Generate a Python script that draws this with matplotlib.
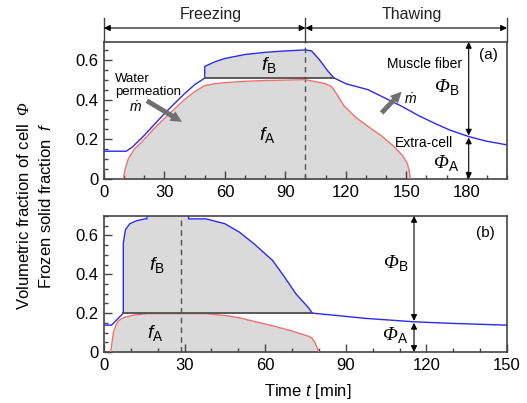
import numpy as np
import matplotlib
matplotlib.use("Agg")
import matplotlib.pyplot as plt
from matplotlib.ticker import MultipleLocator

plt.rcParams['font.family'] = ['Liberation Sans', 'DejaVu Sans']
plt.rcParams['mathtext.fontset'] = 'custom'
plt.rcParams['mathtext.rm'] = 'Liberation Sans'
plt.rcParams['mathtext.it'] = 'Liberation Sans:italic'
plt.rcParams['mathtext.bf'] = 'Liberation Serif:italic'

# ---- panel (a): freezing then thawing ----
blue_a_t = [0, 11, 14, 20, 25, 31, 40, 45, 50, 50, 55, 60, 70, 80, 90, 100,
            103, 107, 111, 114, 120, 131, 140, 148, 156, 164, 172, 181, 190, 200]
blue_a_v = [0.14, 0.14, 0.16, 0.22, 0.275, 0.34, 0.43, 0.475, 0.508, 0.567, 0.59, 0.607,
            0.627, 0.638, 0.645, 0.65, 0.645, 0.60, 0.545, 0.51, 0.48, 0.45, 0.405,
            0.365, 0.32, 0.281, 0.245, 0.214, 0.19, 0.172]
red_a_t = [9.6, 10.5, 12, 15, 20, 25, 31, 40, 45, 50, 55, 60, 70, 80, 90, 100,
           105, 110, 113, 116, 119, 125, 131, 138, 144, 148, 150.5, 151.5, 152]
red_a_v = [0, 0.05, 0.10, 0.15, 0.20, 0.255, 0.315, 0.40, 0.44, 0.47, 0.48, 0.485,
           0.492, 0.496, 0.498, 0.50, 0.49, 0.48, 0.465, 0.42, 0.37, 0.31, 0.265,
           0.215, 0.163, 0.12, 0.08, 0.04, 0]
fb_a_base = 0.51
fb_a_range = (50, 114)
split_a = 100
phi_a_t = 181
phi_a_v = 0.214

# ---- panel (b) ----
blue_b_t = [0, 2.8, 7.2, 7.2, 8, 9.6, 12, 15.2, 16, 16, 31.5, 31.5, 38, 45, 50.4,
            56, 62.7, 67, 71.4, 76.3, 77.5, 85, 97.3, 115.8, 130, 150]
blue_b_v = [0.138, 0.138, 0.2, 0.56, 0.63, 0.66, 0.675, 0.685, 0.685, 0.75, 0.75,
            0.685, 0.685, 0.66, 0.617, 0.555, 0.472, 0.39, 0.30, 0.225, 0.2, 0.19,
            0.173, 0.155, 0.147, 0.138]
red_b_t = [2.5, 3, 3.5, 4.5, 5.3, 7, 10.9, 16, 38, 45, 50.4, 56, 62.7, 70, 76.3,
           77.5, 78.5, 79.4, 80]
red_b_v = [0, 0.05, 0.10, 0.14, 0.16, 0.175, 0.19, 0.197, 0.197, 0.188, 0.176,
           0.157, 0.135, 0.108, 0.08, 0.07, 0.05, 0.02, 0]
fb_b_base = 0.2
fb_b_range = (7.2, 77.5)
split_b = 28.5
phi_b_t = 115.4
phi_b_v = 0.155

BLUE = '#2b2bf0'
RED = '#f07070'
FILL = '#dadada'
DARK = '#505050'
SPINE = '#444444'

fig = plt.figure(figsize=(5.27, 4.03), dpi=100)
ax1 = fig.add_axes([0.1973, 0.5558, 0.7647, 0.34])
ax2 = fig.add_axes([0.1973, 0.1266, 0.7647, 0.3375])


def draw_panel(ax, bt, bv, rt, rv, base, rng, split):
    bt = np.array(bt); bv = np.array(bv)
    rt = np.array(rt); rv = np.array(rv)
    ax.fill_between(rt, 0, rv, color=FILL, lw=0, zorder=1)
    m = (bt >= rng[0]) & (bt <= rng[1])
    ax.fill_between(bt[m], base, bv[m], color=FILL, lw=0, zorder=1)
    ax.plot(rt, rv, color=RED, lw=1.0, zorder=3)
    ax.plot(bt, bv, color=BLUE, lw=1.0, zorder=3)
    ax.plot(rng, [base, base], color=DARK, lw=1.3, zorder=4)
    ax.axvline(split, color=DARK, ls=(0, (4, 3)), lw=1.0, zorder=2)


def style_axes(ax, xmax, ymax):
    ax.set_xlim(0, xmax)
    ax.set_ylim(0, ymax)
    ax.xaxis.set_major_locator(MultipleLocator(30))
    ax.xaxis.set_minor_locator(MultipleLocator(10))
    ax.yaxis.set_major_locator(MultipleLocator(0.2))
    ax.yaxis.set_minor_locator(MultipleLocator(0.05))
    ax.tick_params(which='both', direction='in', top=False, right=False,
                   color=SPINE, labelsize=12, pad=4)
    ax.tick_params(which='major', length=6, width=1)
    ax.tick_params(which='minor', length=3, width=1)
    ax.yaxis.set_major_formatter(plt.FuncFormatter(lambda v, p: '0' if v == 0 else f'{v:.1f}'))
    for s in ax.spines.values():
        s.set_color(SPINE)
        s.set_linewidth(1.2)


def dbl_arrow(ax, x, y0, y1):
    ax.annotate('', xy=(x, y0), xytext=(x, y1),
                arrowprops=dict(arrowstyle='<|-|>', color='black', lw=0.8,
                                mutation_scale=9, shrinkA=0, shrinkB=0),
                zorder=5, annotation_clip=False)


draw_panel(ax1, blue_a_t, blue_a_v, red_a_t, red_a_v, fb_a_base, fb_a_range, split_a)
style_axes(ax1, 200, 0.69)
draw_panel(ax2, blue_b_t, blue_b_v, red_b_t, red_b_v, fb_b_base, fb_b_range, split_b)
style_axes(ax2, 150, 0.7)

# Phi arrows
dbl_arrow(ax1, phi_a_t, 0.69, phi_a_v + 0.005)
dbl_arrow(ax1, phi_a_t, phi_a_v - 0.005, 0)
dbl_arrow(ax2, phi_b_t, 0.7, phi_b_v + 0.005)
dbl_arrow(ax2, phi_b_t, phi_b_v - 0.005, 0)

# freezing / thawing span arrows above panel (a)
tr = ax1.get_xaxis_transform()
for x in [0, split_a, 200]:
    ax1.plot([x, x], [1.0, 1.175], color=SPINE, lw=1.0, transform=tr, clip_on=False)
for x0, x1, lab in [(0, split_a, 'Freezing'), (split_a, 200, 'Thawing')]:
    ax1.annotate('', xy=(x0, 1.102), xytext=(x1, 1.102), xycoords=tr, textcoords=tr,
                 arrowprops=dict(arrowstyle='<|-|>', color='black', lw=0.8,
                                 mutation_scale=9, shrinkA=0, shrinkB=0),
                 annotation_clip=False)
    ax1.text((x0 + x1) / 2 + 3, 1.2, lab, transform=tr, ha='center', va='center',
             fontsize=11.5, color='#222222')

# texts panel (a)
ax1.text(82, 0.576, r'$f_{\mathrm{B}}$', fontsize=14, ha='center', va='center')
ax1.text(80.8, 0.222, r'$f_{\mathrm{A}}$', fontsize=14, ha='center', va='center')
ax1.text(5.5, 0.47, 'Water\npermeation', fontsize=9.5, ha='left', va='center',
         linespacing=1.1)
ax1.text(15.4, 0.36, r'$\dot{m}$', fontsize=10, ha='center', va='center')
ax1.annotate('', xy=(38.7, 0.288), xytext=(21.3, 0.394),
             arrowprops=dict(arrowstyle='simple,head_length=0.8,head_width=0.8,tail_width=0.35',
                             color='#707070', lw=0, shrinkA=0, shrinkB=0))
ax1.annotate('', xy=(147.7, 0.44), xytext=(137.8, 0.333),
             arrowprops=dict(arrowstyle='simple,head_length=0.8,head_width=0.8,tail_width=0.35',
                             color='#707070', lw=0, shrinkA=0, shrinkB=0))
ax1.text(152, 0.40, r'$\dot{m}$', fontsize=10, ha='center', va='center')
ax1.text(159, 0.58, 'Muscle fiber', fontsize=10, ha='center', va='center')
ax1.text(170, 0.465, r'$\mathbf{\Phi}_{\mathrm{B}}$', fontsize=14, ha='center', va='center')
ax1.text(159, 0.18, 'Extra-cell', fontsize=10, ha='center', va='center')
ax1.text(170, 0.08, r'$\mathbf{\Phi}_{\mathrm{A}}$', fontsize=14, ha='center', va='center')
ax1.text(191, 0.626, '(a)', fontsize=11, ha='center', va='center')

# texts panel (b)
ax2.text(19.6, 0.446, r'$f_{\mathrm{B}}$', fontsize=14, ha='center', va='center')
ax2.text(18.9, 0.097, r'$f_{\mathrm{A}}$', fontsize=14, ha='center', va='center')
ax2.text(108.5, 0.456, r'$\mathbf{\Phi}_{\mathrm{B}}$', fontsize=14, ha='center', va='center')
ax2.text(108.5, 0.087, r'$\mathbf{\Phi}_{\mathrm{A}}$', fontsize=14, ha='center', va='center')
ax2.text(142, 0.61, '(b)', fontsize=11, ha='center', va='center')

# axis labels
fig.text(0.584, 0.028, r'Time $t$ [min]', fontsize=12, ha='center', va='center')
fig.text(0.045, 0.49, r'Volumetric fraction of cell  $\mathbf{\Phi}$', fontsize=12,
         rotation=90, ha='center', va='center')
fig.text(0.087, 0.49, r'Frozen solid fraction  $f$', fontsize=12,
         rotation=90, ha='center', va='center')

fig.savefig('out.png', dpi=100)
